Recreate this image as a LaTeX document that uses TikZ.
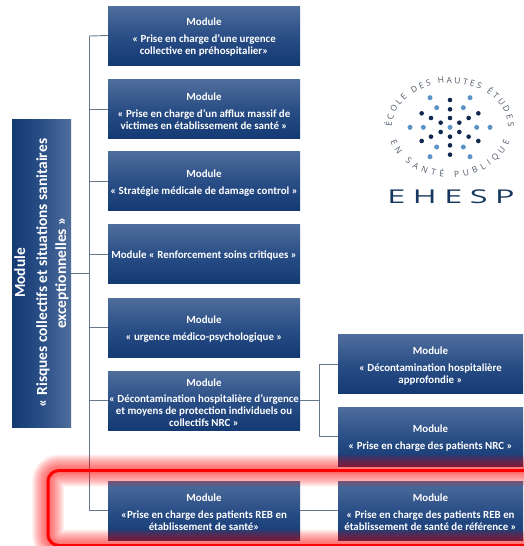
\documentclass[tikz,border=0pt]{standalone}
\usepackage{fontspec}
\setmainfont{Carlito}
\newfontfamily\logofont{Open Sans}
\newfontfamily\bigfont[FakeStretch=1.7,LetterSpace=40]{Open Sans}
\usetikzlibrary{decorations.text,calc}
\definecolor{boxtop}{HTML}{4F6E9C}
\definecolor{boxmid}{HTML}{2A4E86}
\definecolor{boxbot}{HTML}{143A74}
\definecolor{wire}{HTML}{66778C}
\definecolor{dotlight}{HTML}{5B93C7}
\definecolor{dotdark}{HTML}{10284F}
\definecolor{logogray}{HTML}{4F5A68}
\definecolor{logonavy}{HTML}{17385E}
\newcommand\topgap{\rule{0pt}{11.5pt}}
\tikzset{
  modbox/.style={rectangle, inner sep=0pt, text=white, font=\fontsize{10.9}{12}\selectfont\bfseries, align=center,
    minimum width=192pt, minimum height=59pt, top color=boxtop, bottom color=boxbot, middle color=boxmid},
  subbox/.style={modbox, minimum width=185pt},
  rootbox/.style={rectangle, inner sep=0pt, text=white, align=center, rotate=90, minimum width=308pt, minimum height=59pt,
    font=\fontsize{15.4}{19}\selectfont\bfseries, left color=boxbot, right color=boxtop, middle color=boxmid},
  wireline/.style={draw=wire, line width=0.9pt},
  ld/.style={circle, fill=dotlight, inner sep=0pt, minimum size=5pt},
  dd/.style={circle, fill=dotdark, inner sep=0pt, minimum size=4.6pt},
}
\begin{document}
\begin{tikzpicture}[x=1pt,y=-1pt]
\useasboundingbox (0,0) rectangle (523,546);
\fill[white] (0,0) rectangle (523,546);
% modules
\node[rootbox] (root) at (41.5,273) {Module\\[3pt]« Risques collectifs et situations sanitaires\\exceptionnelles »};
\node[modbox] (m1) at (204,35.5) {\topgap Module\\[5pt]« Prise en charge d’une urgence\\collective en préhospitalier»};
\node[modbox] (m2) at (204,109) {\topgap Module\\[5pt]« Prise en charge d’un afflux massif de\\victimes en établissement de santé »};
\node[modbox] (m3) at (204,181) {\topgap Module\\[5pt]« Stratégie médicale de damage control »};
\node[modbox] (m4) at (204,254) {\topgap Module « Renforcement soins critiques »};
\node[modbox] (m5) at (204,327.5) {\topgap Module\\[5pt]« urgence médico-psychologique »};
\node[modbox] (m6) at (204,400.5) {\topgap Module\\[4pt]« Décontamination hospitalière d’urgence\\et moyens de protection individuels ou\\collectifs NRC »};
\node[modbox] (m7) at (204,510.5) {\topgap Module\\[5pt]«Prise en charge des patients REB en\\établissement de santé»};
\node[subbox] (s1) at (430.5,364) {\topgap Module\\[5pt]« Décontamination hospitalière\\approfondie »};
\node[subbox] (s2) at (430.5,436.5) {\topgap Module\\[5pt]« Prise en charge des patients NRC »};
\node[subbox] (s3) at (430.5,510.5) {\topgap Module\\[5pt]« Prise en charge des patients REB en\\établissement de santé de référence »};
% connectors
\coordinate (trunktop) at (89.5,36);
\coordinate (fork) at (319,400);
\draw[wireline] (root.south) -- (root.south -| trunktop);
\draw[wireline] (m1.west) -- (trunktop) -- (trunktop |- m7.west) -- (m7.west);
\foreach \m in {m2,m3,m4,m5,m6}{\draw[wireline] (trunktop |- \m.west) -- (\m.west);}
\draw[wireline] (m6.east) -- (m6.east -| fork);
\draw[wireline] (s1.west) -- (fork |- s1.west) -- (fork |- s2.west) -- (s2.west);
\draw[wireline] (m7.east) -- (s3.west);
% red glow
\foreach \w in {32,30,28,26,24,22,20,18,16,14,12,10,8,6}{
  \draw[red, opacity=0.05, line width=\w pt, rounded corners=11pt] (48,470.5) rectangle (560,545.5);
}
\draw[red, line width=3pt, rounded corners=11pt] (48,470.5) rectangle (560,545.5);
% logo dots
\foreach \x/\y in {180/113,300/113,200/143,280/143,120/202,160/202,240/202,320/202,360/202,200/261,280/261,180/290,300/290}{
  \node[ld] (l\x-\y) at ({370+\x/3},{60+\y/3}) {};
}
\foreach \x/\y in {240/120,240/148,155/160,325/160,183/174,240/174,296/174,212/188,268/188,212/216,268/216,183/230,240/230,296/230,155/243,325/243,240/256,240/284}{
  \node[dd] (d\x-\y) at ({370+\x/3},{60+\y/3}) {};
}
% logo text
\coordinate (topstart) at (392,127);
\coordinate (botstart) at (390.4,141.2);
\path[decorate, decoration={text along path, text align={fit to path}, text color=logogray,
  text={|\logofont\fontsize{8.4}{9}\selectfont|ÉCOLE DES HAUTES ÉTUDES}}]
  (topstart) arc[start angle=180, end angle=0, x radius=58, y radius=-44];
\path[decorate, decoration={text along path, text align={fit to path}, text color=logogray,
  text={|\logofont\fontsize{8.4}{9}\selectfont|EN SANTÉ PUBLIQUE}}]
  (botstart) arc[start angle=196, end angle=344, x radius=62, y radius=-50];
\node[inner sep=0pt, text=logonavy, font=\bigfont\fontsize{19}{20}\selectfont] (ehesp) at (451,197) {EHESP};
\end{tikzpicture}
\end{document}
